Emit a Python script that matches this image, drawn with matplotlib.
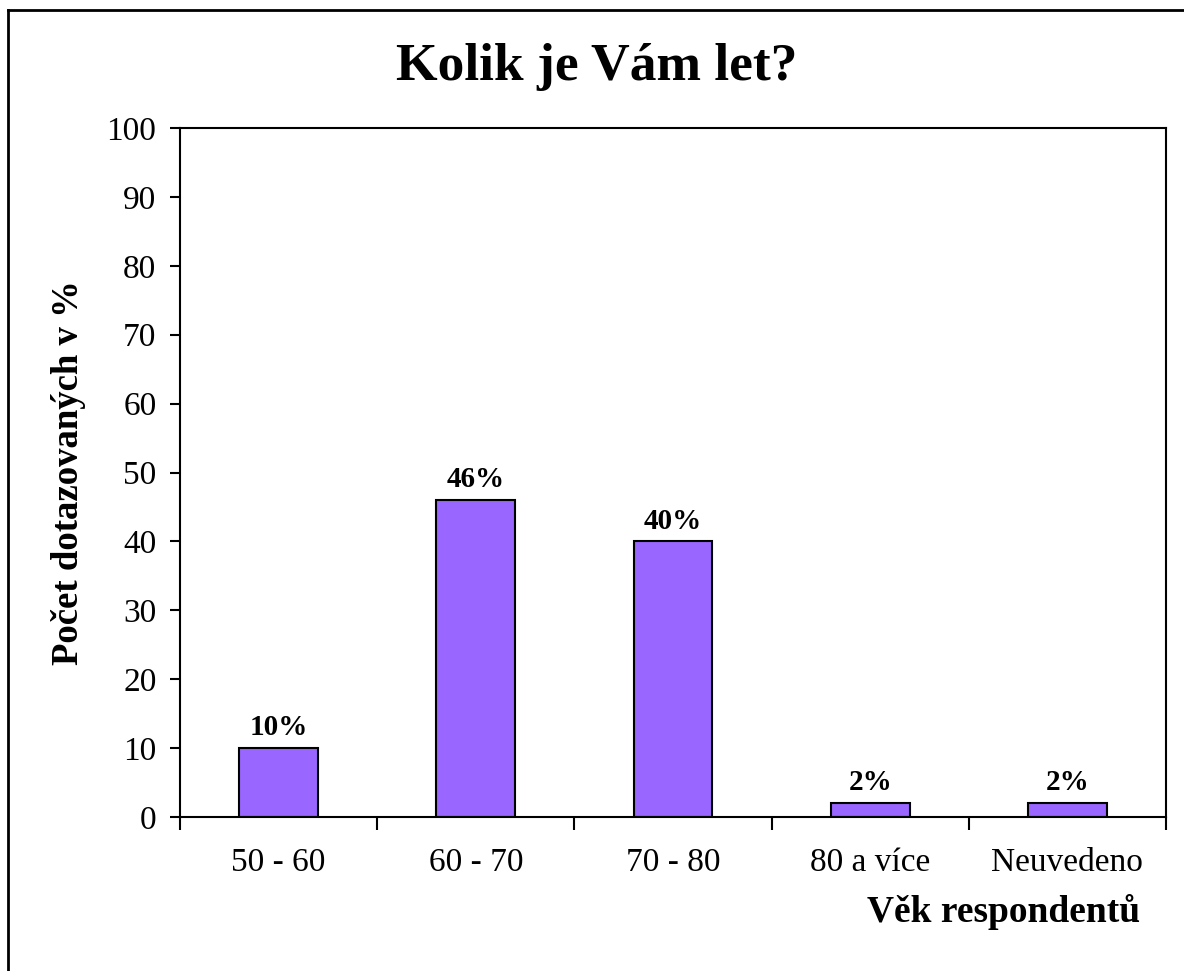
import matplotlib.pyplot as plt
import numpy as np
from matplotlib.lines import Line2D

plt.rcParams['font.family'] = ['Liberation Serif', 'DejaVu Serif']

categories = ['50 - 60', '60 - 70', '70 - 80', '80 a více', 'Neuvedeno']
values = [10, 46, 40, 2, 2]
labels = ['10%', '46%', '40%', '2%', '2%']

fig = plt.figure(figsize=(11.84, 9.71), dpi=100)
ax = fig.add_axes([180/1184, 1 - 817/971, (1166-180)/1184, (817-128)/971])

x = np.arange(len(categories))
ax.bar(x, values, width=0.4, color='#9966FF', edgecolor='black', linewidth=1.5)
for xi, v, lab in zip(x, values, labels):
    ax.text(xi, v + 1.0, lab, ha='center', va='bottom', fontsize=21, fontweight='bold')

ax.set_xlim(-0.5, 4.5)
ax.set_ylim(0, 100)
ax.set_yticks(range(0, 101, 10))
ax.tick_params(axis='y', labelsize=24, length=7, width=1.5, direction='out', pad=10)
# category labels centred, tick marks at category boundaries
ax.set_xticks(np.arange(-0.5, 5, 1))
ax.set_xticklabels([])
ax.set_xticks(x, minor=True)
ax.set_xticklabels(categories, minor=True)
ax.tick_params(axis='x', which='major', length=9, width=1.5, direction='out')
ax.tick_params(axis='x', which='minor', length=0, labelsize=24, pad=22)
for s in ax.spines.values():
    s.set_linewidth(1.5)

ax.set_ylabel('Počet dotazovaných v %', fontsize=26.5, fontweight='bold', labelpad=15)
fig.text(597/1184, 1 - 67/971, 'Kolik je Vám let?', ha='center', va='center',
         fontsize=38.5, fontweight='bold')
fig.text(1140/1184, 1 - 912/971, 'Věk respondentů', ha='right', va='center',
         fontsize=27, fontweight='bold')

# outer chart border (top and left visible)
fig.add_artist(Line2D([8/1184, 8/1184], [0, 1 - 10/971], transform=fig.transFigure,
                      color='black', linewidth=2))
fig.add_artist(Line2D([8/1184, 1], [1 - 10/971, 1 - 10/971], transform=fig.transFigure,
                      color='black', linewidth=2))

fig.savefig('out.png', dpi=100)
